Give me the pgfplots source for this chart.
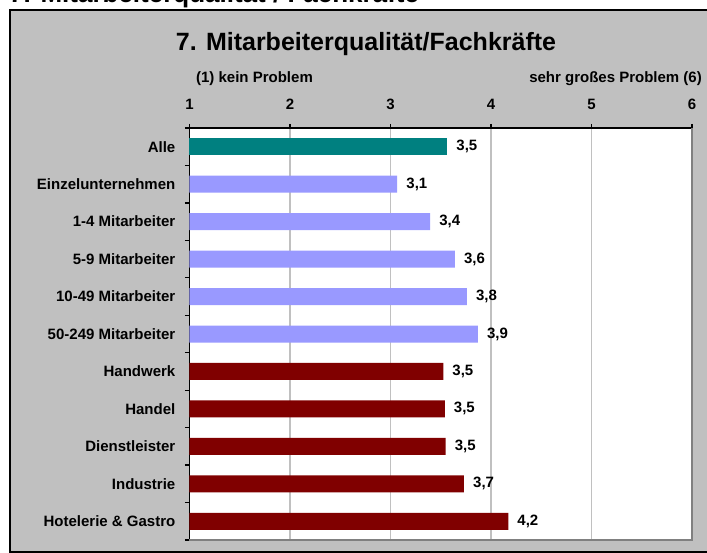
\documentclass[border=0pt]{standalone}
\usepackage{fontspec}
\setmainfont{Liberation Sans}
\usepackage{pgfplots}
\usepackage{pgfplotstable}
\pgfplotsset{compat=1.18}
\definecolor{bggray}{HTML}{C0C0C0}
\definecolor{gridgray}{HTML}{C0C0C0}
\definecolor{shadegray}{HTML}{808080}
\definecolor{tealc}{HTML}{008080}
\definecolor{lavc}{HTML}{9999FF}
\definecolor{maroonc}{HTML}{800000}

\pgfplotstableread{
x y label
3.565 10 3,5
}\alle
\pgfplotstableread{
x y label
3.067 9 3,1
3.395 8 3,4
3.640 7 3,6
3.760 6 3,8
3.870 5 3,9
}\groesse
\pgfplotstableread{
x y label
3.525 4 3,5
3.540 3 3,5
3.548 2 3,5
3.731 1 3,7
4.172 0 4,2
}\branche

\begin{document}
\begin{tikzpicture}
\useasboundingbox (0,0) rectangle (707pt,-553pt);
\clip (0,0) rectangle (707pt,-553pt);
\node[anchor=base west, inner sep=0pt, font=\fontsize{26}{30}\selectfont\bfseries] at (9pt,-3pt) {7. Mitarbeiterqualität / Fachkräfte};
\draw[line width=2.5pt, fill=bggray] (10pt,-10pt) rectangle (740pt,-552pt);
\node[anchor=base, inner sep=0pt, font=\fontsize{25}{30}\selectfont\bfseries] at (366pt,-51pt) {7. Mitarbeiterqualität/Fachkräfte};
\node[anchor=base, inner sep=0pt, font=\fontsize{15}{18}\selectfont\bfseries] at (254.5pt,-82.5pt) {(1) kein Problem};
\node[anchor=base east, inner sep=0pt, font=\fontsize{15}{18}\selectfont\bfseries] at (702pt,-82.5pt) {sehr großes Problem (6)};
\begin{axis}[
  at={(189.5pt,-128pt)}, anchor=north west,
  scale only axis, width=502.5pt, height=412pt,
  xmin=1, xmax=6, ymin=-0.5, ymax=10.5,
  axis x line*=top, axis y line*=left,
  axis line style={black, line width=1.6pt},
  axis background/.style={fill=white},
  xtick={1,2,3,4,5,6}, xticklabels={1,2,3,4,5,6},
  ytick={0,1,2,3,4,5,6,7,8,9,10},
  yticklabels={Hotelerie \& Gastro, Industrie, Dienstleister, Handel, Handwerk, 50-249 Mitarbeiter, 10-49 Mitarbeiter, 5-9 Mitarbeiter, 1-4 Mitarbeiter, Einzelunternehmen, Alle},
  minor ytick={-0.5,0.5,1.5,2.5,3.5,4.5,5.5,6.5,7.5,8.5,9.5,10.5},
  tick align=outside, major tick length=4pt, minor tick length=4.5pt,
  every tick/.style={black, line width=1.2pt},
  every major y tick/.append style={draw=none},
  xmajorgrids, major grid style={draw=gridgray, line width=1.5pt},
  /pgf/number format/assume math mode=true,
  tick label style={font=\fontsize{15}{18}\selectfont\bfseries, inner sep=0pt},
  xticklabel style={yshift=14pt},
  yticklabel style={xshift=-10pt},
  xbar, bar width=17pt, bar shift=0pt,
  nodes near coords, point meta=explicit symbolic,
  nodes near coords style={font=\fontsize{15}{18}\selectfont\bfseries, anchor=west, inner sep=0pt, xshift=9pt, text=black},
  clip=false,
]
\addplot[fill=tealc, draw=none] table[x=x, y=y, meta=label] {\alle};
\addplot[fill=lavc, draw=none] table[x=x, y=y, meta=label] {\groesse};
\addplot[fill=maroonc, draw=none] table[x=x, y=y, meta=label] {\branche};
\draw[shadegray, line width=2pt] (rel axis cs:1,1) -- (rel axis cs:1,0) -- (rel axis cs:0,0);
\end{axis}
\end{tikzpicture}
\end{document}
